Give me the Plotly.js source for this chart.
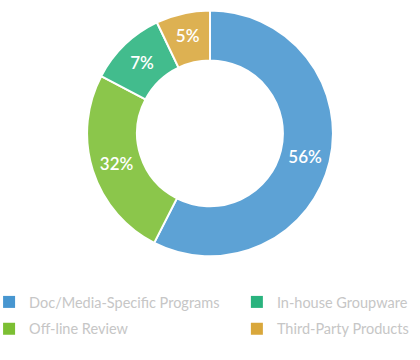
<!DOCTYPE html>
<html>
<head>
<meta charset="utf-8">
<script src="https://cdn.plot.ly/plotly-3.0.1.min.js"></script>
<style>html,body{margin:0;padding:0;background:#fff;}#chart{width:420px;height:360px;}</style>
</head>
<body>
<div id="chart"></div>
<script>
// Categories in slice order (clockwise from 12 o'clock)
const categories = ["Doc/Media-Specific Programs", "Off-line Review", "In-house Groupware", "Third-Party Products"];
const sliceValues = [57.5, 25.2, 10.2, 7.1];
// Percentage labels printed on the slices
const sliceLabels = ["56%", "32%", "7%", "5%"];
const colors = ["#4796d0", "#7cbf33", "#29b37e", "#d9a73b"];
// Legend columns
const legendColumn1 = ["Doc/Media-Specific Programs", "Off-line Review"];
const legendColumn2 = ["In-house Groupware", "Third-Party Products"];

const pie = {
  type: "pie",
  labels: categories,
  values: sliceValues,
  text: sliceLabels,
  textinfo: "text",
  textposition: "inside",
  insidetextorientation: "horizontal",
  sort: false,
  direction: "clockwise",
  rotation: 0,
  hole: 0.593,
  opacity: 0.88,
  marker: {colors: colors, line: {color: "#ffffff", width: 2}},
  textfont: {family: "Lato", size: 17, color: "#ffffff", weight: 600},
  showlegend: false,
  hoverinfo: "none",
  domain: {x: [0, 1], y: [0.288, 0.971]}
};

function legendTrace(name, legendId) {
  return {
    type: "bar",
    name: name,
    legend: legendId,
    legendgroup: name,
    x: [null],
    y: [null],
    marker: {color: colors[categories.indexOf(name)]},
    showlegend: true,
    hoverinfo: "none"
  };
}
const legendTraces = legendColumn1.map(n => legendTrace(n, "legend"))
  .concat(legendColumn2.map(n => legendTrace(n, "legend2")));

const legendStyle = {
  orientation: "v",
  xanchor: "left",
  yanchor: "top",
  y: 0.2056,
  traceorder: "grouped",
  tracegroupgap: 5,
  font: {family: "Lato", size: 14.5, color: "#c6c6c6"},
  bgcolor: "rgba(0,0,0,0)",
  borderwidth: 0
};

const layout = {
  width: 420,
  height: 360,
  margin: {l: 0, r: 0, t: 0, b: 0, autoexpand: false},
  paper_bgcolor: "#ffffff",
  plot_bgcolor: "#ffffff",
  xaxis: {visible: false},
  yaxis: {visible: false},
  showlegend: true,
  legend: Object.assign({}, legendStyle, {x: -0.026}),
  legend2: Object.assign({}, legendStyle, {x: 0.564})
};

Plotly.newPlot("chart", [pie].concat(legendTraces), layout, {displayModeBar: false, staticPlot: true});
</script>
</body>
</html>
